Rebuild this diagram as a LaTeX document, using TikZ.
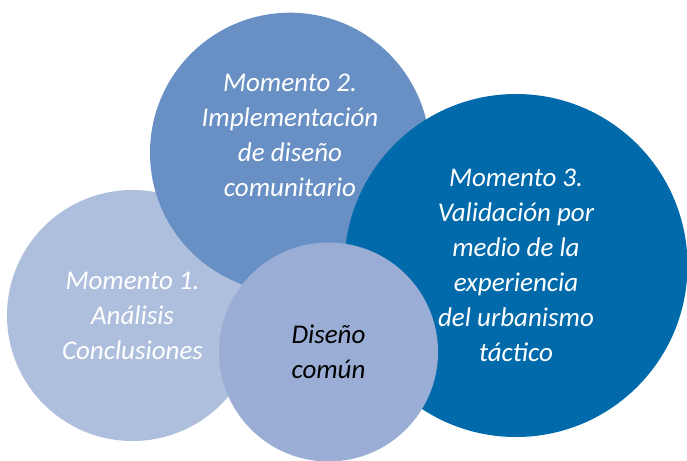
\documentclass[tikz,border=0pt]{standalone}
\usepackage{fontspec}
\setmainfont{Carlito}
\usepackage{xcolor}
\usepackage{tikz}
\usetikzlibrary{positioning}

\definecolor{momentoA}{HTML}{AEBFDE}
\definecolor{momentoB}{HTML}{6890C4}
\definecolor{momentoC}{HTML}{006AAA}
\definecolor{comun}{HTML}{9AAED5}

\begin{document}
\begin{tikzpicture}[
  x=1pt, y=-1pt,
  bubble/.style={
    circle,
    inner sep=0pt,
    align=center,
    text=white,
    font=\fontsize{27}{35}\selectfont\itshape
  },
  bubbletext/.style={
    align=center,
    text=white,
    font=\fontsize{27}{35}\selectfont\itshape
  }
]
\useasboundingbox (0,0) rectangle (687,460);

% Momento 1 (left)
\node[bubble, fill=momentoA, minimum size=251pt] (m1) at (132.5,315.5) {%
  Momento 1.\\
  Análisis\\
  Conclusiones
};

% Momento 2 (top)
\node[bubble, fill=momentoB, minimum size=280pt] (m2) at (290,152.7) {};
\node[bubbletext] (m2text) at ([yshift=17pt]m2.center) {%
  Momento 2.\\
  Implementación\\
  de diseño\\
  comunitario
};

% Momento 3 (right)
\node[bubble, fill=momentoC, minimum size=343pt] (m3) at (516,265.5) {%
  Momento 3.\\
  Validación por\\
  medio de la\\
  experiencia\\
  del urbanismo\\
  táctico
};

% Diseño común (front)
\node[bubble, fill=comun, minimum size=219pt, text=black] (dc) at (328.5,352) {%
  Diseño\\
  común
};

\end{tikzpicture}
\end{document}
